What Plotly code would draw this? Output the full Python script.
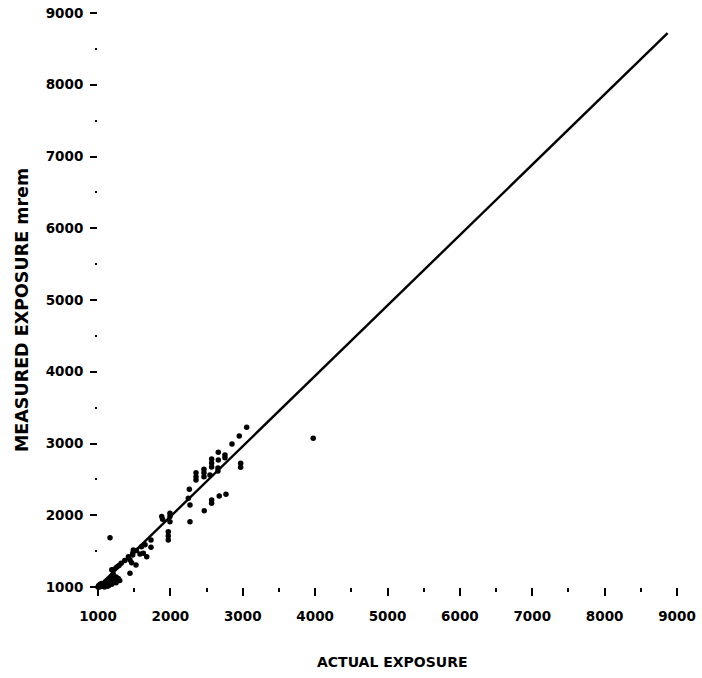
import plotly.graph_objects as go

# Fitted line end points (actual, measured)
line_x = [1000, 8870]
line_y = [1000, 8720]

# Scatter: actual exposure vs measured exposure (mrem)
actual = [
    1000, 1020, 1040, 1060, 1080, 1100, 1120, 1140, 1160, 1180, 1200, 1220, 1240, 1260, 1280,
    1050, 1100, 1150, 1200, 1250, 1070, 1130, 1190, 1250, 1300, 1180, 1210, 1230, 1260, 1290,
    1190, 1320, 1370, 1420, 1480, 1530, 1600, 1650,
    1010, 1030, 1090, 1110, 1170, 1230, 1270, 1150, 1210,
    1166, 1442, 1442, 1465, 1525, 1488, 1479, 1580, 1626, 1673, 1732, 1732,
    1971, 1971, 1971, 1880, 1893, 1994, 1994, 1994,
    2262, 2248, 2271, 2271, 2468, 2570, 2570, 2675, 2768,
    2354, 2354, 2354, 2464, 2464, 2464, 2547, 2570, 2570, 2570, 2657, 2657, 2662, 2662,
    2754, 2754, 2851, 2952, 2971, 2971, 3054, 3974,
]
measured = [
    1000, 1000, 1010, 1020, 1010, 1030, 1040, 1050, 1060, 1070, 1080, 1090, 1100, 1110, 1120,
    1050, 1070, 1090, 1120, 1140, 990, 1010, 1040, 1060, 1090, 1130, 1180, 1250, 1280, 1300,
    1240, 1330, 1370, 1420, 1470, 1510, 1560, 1590,
    1020, 1040, 1000, 1060, 1100, 1130, 1090, 1020, 1060,
    1688, 1191, 1377, 1339, 1307, 1516, 1446, 1460, 1470, 1423, 1655, 1554,
    1771, 1711, 1655, 1981, 1944, 2028, 1981, 1911,
    2363, 2237, 2144, 1911, 2064, 2213, 2167, 2269, 2293,
    2594, 2538, 2492, 2641, 2594, 2538, 2562, 2785, 2729, 2673, 2660, 2618, 2878, 2771,
    2841, 2800, 2994, 3106, 2725, 2669, 3227, 3074,
]

tick_vals = [1000, 2000, 3000, 4000, 5000, 6000, 7000, 8000, 9000]
tick_text = ["1000", "2000", "3000", "4000", "5000", "6000", "7000", "8000", "9000"]
minor_vals = [1500, 2500, 3500, 4500, 5500, 6500, 7500, 8500]

fig = go.Figure()
fig.add_trace(go.Scatter(
    x=line_x, y=line_y, mode="lines",
    line=dict(color="black", width=2.4),
    hoverinfo="skip", cliponaxis=False,
))
fig.add_trace(go.Scatter(
    x=actual, y=measured, mode="markers",
    marker=dict(color="black", size=5.5, line=dict(width=0)),
    cliponaxis=False,
))

tickfont = dict(family="DejaVu Sans", size=13.5, color="black", weight="bold")

fig.update_layout(
    width=702, height=678,
    margin=dict(l=98, r=25, t=13, b=91),
    paper_bgcolor="white", plot_bgcolor="white",
    showlegend=False,
    xaxis=dict(
        range=[1000, 9000], tickvals=tick_vals, ticktext=tick_text,
        showgrid=False, zeroline=False, showline=False, automargin=False,
        ticks="outside", ticklen=8, tickwidth=2, tickcolor="black",
        minor=dict(tickvals=minor_vals,
                   ticks="outside", ticklen=4, tickwidth=2, tickcolor="black"),
        tickfont=tickfont, ticklabelstandoff=9,
    ),
    yaxis=dict(
        range=[1000, 9000], tickvals=tick_vals, ticktext=tick_text,
        showgrid=False, zeroline=False, showline=False, automargin=False,
        ticks="outside", ticklen=7, tickwidth=2, tickcolor="black",
        minor=dict(tickvals=minor_vals,
                   ticks="outside", ticklen=2, tickwidth=2, tickcolor="black"),
        tickfont=tickfont, ticklabelstandoff=4,
    ),
    annotations=[
        dict(text="ACTUAL EXPOSURE", xref="paper", yref="paper",
             x=0.508, y=-0.13, showarrow=False, xanchor="center", yanchor="middle",
             font=dict(family="DejaVu Sans", size=14, color="black", weight="bold")),
        dict(text="MEASURED EXPOSURE mrem", xref="paper", yref="paper",
             x=-0.13, y=0.482, showarrow=False, xanchor="center", yanchor="middle",
             textangle=-90,
             font=dict(family="DejaVu Sans", size=17.5, color="black", weight="bold")),
    ],
)

fig.write_html("out.html")
